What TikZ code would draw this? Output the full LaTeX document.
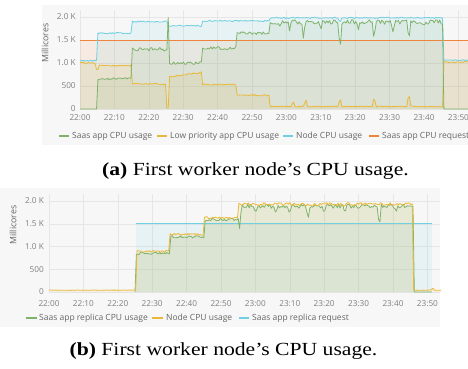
\documentclass[tikz,border=0pt]{standalone}
\usepackage{fontspec}
\setmainfont{Liberation Serif}
\newfontfamily\chartfont{Open Sans}
\newfontfamily\capfont[FakeStretch=1.17]{Liberation Serif}

\definecolor{gGreen}{HTML}{7EB26D}
\definecolor{gYellow}{HTML}{EAB839}
\definecolor{gCyan}{HTML}{6ED0E0}
\definecolor{gOrange}{HTML}{EF843C}
\definecolor{panelbg}{HTML}{F7F7F7}
\definecolor{gridc}{HTML}{E6E6E6}
\definecolor{ticktext}{HTML}{808080}
\definecolor{legendtext}{HTML}{666666}

\tikzset{
  declare function={
    win(\t,\a,\b)=(\t>=\a)*(\t<\b);
    dip(\t,\c,\d)=-\d*max(0,1-abs(\t-\c)/0.5);
    % first worker node, panel (a)
    greenA(\t)=win(\t,4.9,15.2)*(660+25*rand)
      +win(\t,15.2,25.5)*(1300+40*rand)
      +win(\t,25.5,26.0)*1990
      +win(\t,26.0,35.4)*(1000+30*rand)
      +win(\t,35.4,45.3)*(1320+40*rand)
      +win(\t,45.3,55.2)*(1650+30*rand)
      +win(\t,55.2,105.5)*(1890+50*rand
        +dip(\t,58,150)+dip(\t,61,200)+dip(\t,65,400)+dip(\t,70,150)
        +dip(\t,75.6,650)+dip(\t,81,150)+dip(\t,85.5,400)+dip(\t,91,200)
        +dip(\t,95.6,450)+dip(\t,100,150));
    cyanA(\t)=win(\t,0,4.9)*(1050+12*rand)
      +win(\t,4.9,15.2)*(1650+15*rand)
      +win(\t,15.2,25.5)*(1900+15*rand)
      +win(\t,25.5,35.4)*(1810+15*rand)
      +win(\t,35.4,55.2)*(1915+15*rand)
      +win(\t,55.2,105.5)*(1980+15*rand+0.3*dip(\t,75.6,400))
      +win(\t,105.5,120)*(1060+10*rand);
    yellowA(\t)=win(\t,0,4.6)*(1000+15*rand)
      +win(\t,4.6,5.4)*860
      +win(\t,5.4,15.2)*(940+15*rand)
      +win(\t,15.2,25.2)*(545+15*rand)
      +win(\t,25.2,25.9)*20
      +win(\t,25.9,35.4)*(700+(\t-25.9)*10+15*rand)
      +win(\t,35.4,45.3)*(530+15*rand)
      +win(\t,45.3,55.2)*(300+15*rand)
      +win(\t,55.2,105.5)*(55+10*rand
        -1.2*dip(\t,62,100)-1.2*dip(\t,65.6,150)-1.2*dip(\t,75.6,150)
        -1.2*dip(\t,85.5,190)-1.2*dip(\t,95.6,270))
      +win(\t,105.5,120)*(1020+15*rand);
    % first worker node, panel (b)
    yellowB(\t)=win(\t,0,25.2)*(40+4*rand)
      +win(\t,25.2,35.1)*(890+25*rand)
      +win(\t,35.1,45)*(1265+25*rand)
      +win(\t,45,55)*(1630+25*rand)
      +win(\t,55,105.8)*(1930+35*rand)
      +win(\t,105.8,120)*(40+4*rand-dip(\t,111.5,50));
    greenB(\t)=win(\t,25.2,35.1)*(850+30*rand)
      +win(\t,35.1,45)*(1215+30*rand)
      +win(\t,45,55)*(1590+30*rand)
      +win(\t,55,105.8)*(1885+45*rand
        +dip(\t,55.4,500)+dip(\t,60,150)+dip(\t,66,200)+dip(\t,70,150)
        +dip(\t,75.3,350)+dip(\t,80,150)+dip(\t,86,150)+dip(\t,96,500)
        +dip(\t,101,150));
  },
  ticklbl/.style={font=\chartfont\fontsize{8.2}{9}\selectfont, text=ticktext, inner sep=0pt},
  legendtxt/.style={font=\chartfont\fontsize{8.5}{10}\selectfont, text=legendtext, anchor=west, inner sep=0pt},
  axistitle/.style={font=\chartfont\fontsize{8.8}{10}\selectfont, text=legendtext, rotate=90, inner sep=0pt},
  legendmark/.style={line width=2.6pt},
  seriesline/.style={line width=0.8pt, line join=round},
  seriesfill/.style={fill opacity=0.11},
  gridline/.style={draw=gridc, line width=0.5pt},
  captiontxt/.style={font=\capfont\fontsize{18.5}{22}\selectfont, anchor=base, inner sep=0pt},
}

\begin{document}
\begin{tikzpicture}[x=1pt,y=1pt]
\useasboundingbox (0,-369) rectangle (468,0);
\fill[white] (0,-369) rectangle (468,0);

% ---------- panel (a) ----------
\fill[panelbg] (42,-5) rectangle (468,-145);
\begin{scope}[shift={(80,-109)}, x=3.44pt, y=0.046pt]
  \foreach \v in {0,500,1000,1500,2000} \draw[gridline] (0,\v) -- (113,\v);
  \foreach \m in {0,10,...,110} \draw[gridline] (\m,0) -- (\m,2150);
  % fills
  \fill[gOrange, seriesfill] (0,0) rectangle (113,1500);
  \pgfmathsetseed{11}
  \fill[gCyan, seriesfill] (0,0) -- plot[domain=0:113, samples=283] (\x,{cyanA(\x)}) -- (113,0) -- cycle;
  \pgfmathsetseed{12}
  \fill[gYellow, seriesfill] (0,0) -- plot[domain=0:113, samples=283] (\x,{yellowA(\x)}) -- (113,0) -- cycle;
  \pgfmathsetseed{13}
  \fill[gGreen, seriesfill] (0,0) -- plot[domain=0:113, samples=283] (\x,{greenA(\x)}) -- (113,0) -- cycle;
  % lines
  \draw[gOrange, seriesline] (0,1500) -- (113,1500);
  \pgfmathsetseed{11}
  \draw[gCyan, seriesline] plot[domain=0:113, samples=283] (\x,{cyanA(\x)});
  \pgfmathsetseed{12}
  \draw[gYellow, seriesline] plot[domain=0:113, samples=283] (\x,{yellowA(\x)});
  \pgfmathsetseed{13}
  \draw[gGreen, seriesline] plot[domain=0:113, samples=283] (\x,{greenA(\x)});
  % axis labels
  \foreach \v/\l in {0/0,500/500,1000/1.0 K,1500/1.5 K,2000/2.0 K}
    \node[ticklbl, anchor=east] (ya\v) at (-1.2,\v) {\l};
  \foreach \m/\l in {0/22:00,10/22:10,20/22:20,30/22:30,40/22:40,50/22:50,
                     60/23:00,70/23:10,80/23:20,90/23:30,100/23:40,110/23:50}
    \node[ticklbl] (xa\m) at (\m,-195) {\l};
\end{scope}
\node[axistitle] (mca) at (45,-43) {Millicores};
% legend (a)
\draw[gGreen, legendmark] (59,-136) -- (69,-136);
\node[legendtxt] (la1) at (72,-136) {Saas app CPU usage};
\draw[gYellow, legendmark] (157,-136) -- (167,-136);
\node[legendtxt] (la2) at (170,-136) {Low priority app CPU usage};
\draw[gCyan, legendmark] (283,-136) -- (293,-136);
\node[legendtxt] (la3) at (296,-136) {Node CPU usage};
\draw[gOrange, legendmark] (369,-136) -- (379,-136);
\node[legendtxt] (la4) at (382,-136) {Saas app CPU request};

\node[captiontxt] (capa) at (255.5,-175) {\textbf{(a)} First worker node’s CPU usage.};

% ---------- panel (b) ----------
\fill[panelbg] (0,-188) rectangle (440,-327);
\begin{scope}[shift={(49,-292)}, x=3.44pt, y=0.0455pt]
  \foreach \v in {0,500,1000,1500,2000} \draw[gridline] (0,\v) -- (113.6,\v);
  \foreach \m in {0,10,...,110} \draw[gridline] (\m,0) -- (\m,2150);
  % fills
  \fill[gCyan, seriesfill] (25.2,0) rectangle (111.4,1500);
  \pgfmathsetseed{21}
  \fill[gYellow, seriesfill] (0,0) -- plot[domain=0:114, samples=286] (\x,{yellowB(\x)}) -- (114,0) -- cycle;
  \pgfmathsetseed{22}
  \fill[gGreen, seriesfill] (25,0) -- plot[domain=25:111.4, samples=217] (\x,{greenB(\x)}) -- (111.4,0) -- cycle;
  % lines
  \draw[gCyan, seriesline] (25.2,1500) -- (111.4,1500);
  \pgfmathsetseed{22}
  \draw[gGreen, seriesline] plot[domain=25:111.4, samples=217] (\x,{greenB(\x)});
  \pgfmathsetseed{21}
  \draw[gYellow, seriesline] plot[domain=0:114, samples=286] (\x,{yellowB(\x)});
  % axis labels
  \foreach \v/\l in {0/0,500/500,1000/1.0 K,1500/1.5 K,2000/2.0 K}
    \node[ticklbl, anchor=east] (yb\v) at (-1.45,\v) {\l};
  \foreach \m/\l in {0/22:00,10/22:10,20/22:20,30/22:30,40/22:40,50/22:50,
                     60/23:00,70/23:10,80/23:20,90/23:30,100/23:40,110/23:50}
    \node[ticklbl] (xb\m) at (\m,-245) {\l};
\end{scope}
\node[axistitle] (mcb) at (13,-225) {Millicores};
% legend (b)
\draw[gGreen, legendmark] (26,-318) -- (37,-318);
\node[legendtxt] (lb1) at (39,-318) {Saas app replica CPU usage};
\draw[gYellow, legendmark] (152,-318) -- (163,-318);
\node[legendtxt] (lb2) at (166,-318) {Node CPU usage};
\draw[gCyan, legendmark] (239,-318) -- (249,-318);
\node[legendtxt] (lb3) at (252,-318) {Saas app replica request};

\node[captiontxt] (capb) at (223.5,-355) {\textbf{(b)} First worker node’s CPU usage.};
\end{tikzpicture}
\end{document}
